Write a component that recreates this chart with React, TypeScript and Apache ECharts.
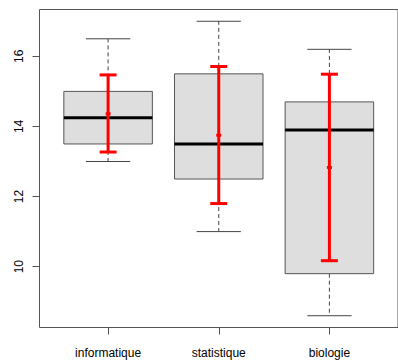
import React, { useEffect, useRef } from "react";
import * as echarts from "echarts";

const categories = ["informatique", "statistique", "biologie"];
const positions = [1, 2, 3];
const mins = [13.0, 11.0, 8.6];
const q1s = [13.5, 12.5, 9.8];
const medians = [14.25, 13.5, 13.9];
const q3s = [15.0, 15.5, 14.7];
const maxs = [16.5, 17.0, 16.2];
const means = [14.36, 13.75, 12.83];
const errLows = [13.27, 11.8, 10.17];
const errHighs = [15.47, 15.71, 15.49];
const yTicks = [10, 12, 14, 16];

const FONT = "Liberation Sans, Arial, Helvetica, sans-serif";

export default function App() {
  const ref = useRef<HTMLDivElement>(null);
  useEffect(() => {
    if (!ref.current) return;
    const chart = echarts.init(ref.current, null, { renderer: "svg" });
    const boxData = positions.map((p, i) => [p, mins[i], q1s[i], medians[i], q3s[i], maxs[i]]);
    const errData = positions.map((p, i) => [p, errLows[i], means[i], errHighs[i]]);

    const option: any = {
      animation: false,
      backgroundColor: "#ffffff",
      grid: {
        left: 39.5,
        top: 9.5,
        width: 364.1,
        height: 318,
        show: true,
        borderColor: "#555555",
        borderWidth: 1,
        backgroundColor: "transparent",
      },
      xAxis: {
        type: "value",
        min: 0.38,
        max: 3.62,
        splitLine: { show: false },
        axisLine: { show: false },
        axisTick: {
          show: true,
          customValues: positions,
          length: 7,
          lineStyle: { color: "#555555", width: 1 },
        },
        axisLabel: {
          show: true,
          customValues: positions,
          margin: 19,
          fontFamily: FONT,
          fontSize: 12,
          color: "#000000",
          formatter: (v: number) => categories[Math.round(v) - 1] ?? "",
        },
      },
      yAxis: {
        type: "value",
        min: 8.264,
        max: 17.336,
        splitLine: { show: false },
        axisLine: { show: false },
        axisTick: {
          show: true,
          customValues: yTicks,
          length: 7,
          lineStyle: { color: "#555555", width: 1 },
        },
        axisLabel: {
          show: true,
          customValues: yTicks,
          rotate: 90,
          margin: 15,
          fontFamily: FONT,
          fontSize: 12,
          color: "#000000",
        },
      },
      series: [
        {
          type: "custom",
          data: boxData,
          clip: false,
          renderItem: (params: any, api: any) => {
            const x = api.value(0);
            const mn = api.value(1);
            const q1 = api.value(2);
            const md = api.value(3);
            const q3 = api.value(4);
            const mx = api.value(5);
            const pMin = api.coord([x, mn]);
            const pQ1 = api.coord([x, q1]);
            const pMd = api.coord([x, md]);
            const pQ3 = api.coord([x, q3]);
            const pMx = api.coord([x, mx]);
            const boxW = api.size([0.8, 0])[0];
            const capW = boxW / 2;
            const cx = pMd[0];
            const dash = { stroke: "#444444", lineWidth: 1, lineDash: [4, 3] };
            const solid = { stroke: "#444444", lineWidth: 1 };
            return {
              type: "group",
              children: [
                { type: "line", shape: { x1: cx, y1: pQ3[1], x2: cx, y2: pMx[1] }, style: dash },
                { type: "line", shape: { x1: cx, y1: pQ1[1], x2: cx, y2: pMin[1] }, style: dash },
                { type: "line", shape: { x1: cx - capW / 2, y1: pMx[1], x2: cx + capW / 2, y2: pMx[1] }, style: solid },
                { type: "line", shape: { x1: cx - capW / 2, y1: pMin[1], x2: cx + capW / 2, y2: pMin[1] }, style: solid },
                {
                  type: "rect",
                  shape: { x: cx - boxW / 2, y: pQ3[1], width: boxW, height: pQ1[1] - pQ3[1] },
                  style: { fill: "#DEDEDE", stroke: "#555555", lineWidth: 1 },
                },
                {
                  type: "line",
                  shape: { x1: cx - boxW / 2, y1: pMd[1], x2: cx + boxW / 2, y2: pMd[1] },
                  style: { stroke: "#000000", lineWidth: 3 },
                },
              ],
            };
          },
        },
        {
          type: "custom",
          data: errData,
          clip: false,
          renderItem: (params: any, api: any) => {
            const x = api.value(0);
            const lo = api.coord([x, api.value(1)]);
            const mean = api.coord([x, api.value(2)]);
            const hi = api.coord([x, api.value(3)]);
            const cx = mean[0];
            const capW = 17;
            const red = { stroke: "#FF0000", lineWidth: 3 };
            return {
              type: "group",
              children: [
                { type: "line", shape: { x1: cx, y1: lo[1], x2: cx, y2: hi[1] }, style: red },
                { type: "line", shape: { x1: cx - capW / 2, y1: hi[1], x2: cx + capW / 2, y2: hi[1] }, style: red },
                { type: "line", shape: { x1: cx - capW / 2, y1: lo[1], x2: cx + capW / 2, y2: lo[1] }, style: red },
                { type: "rect", shape: { x: cx - 2.5, y: mean[1] - 1.5, width: 5, height: 3 }, style: { fill: "#FF0000" } },
              ],
            };
          },
        },
      ],
    };
    chart.setOption(option);
    return () => chart.dispose();
  }, []);
  return (
    <div
      ref={ref}
      style={{ position: "fixed", left: 0, top: 0, width: 398, height: 360, background: "#fff" }}
    />
  );
}
